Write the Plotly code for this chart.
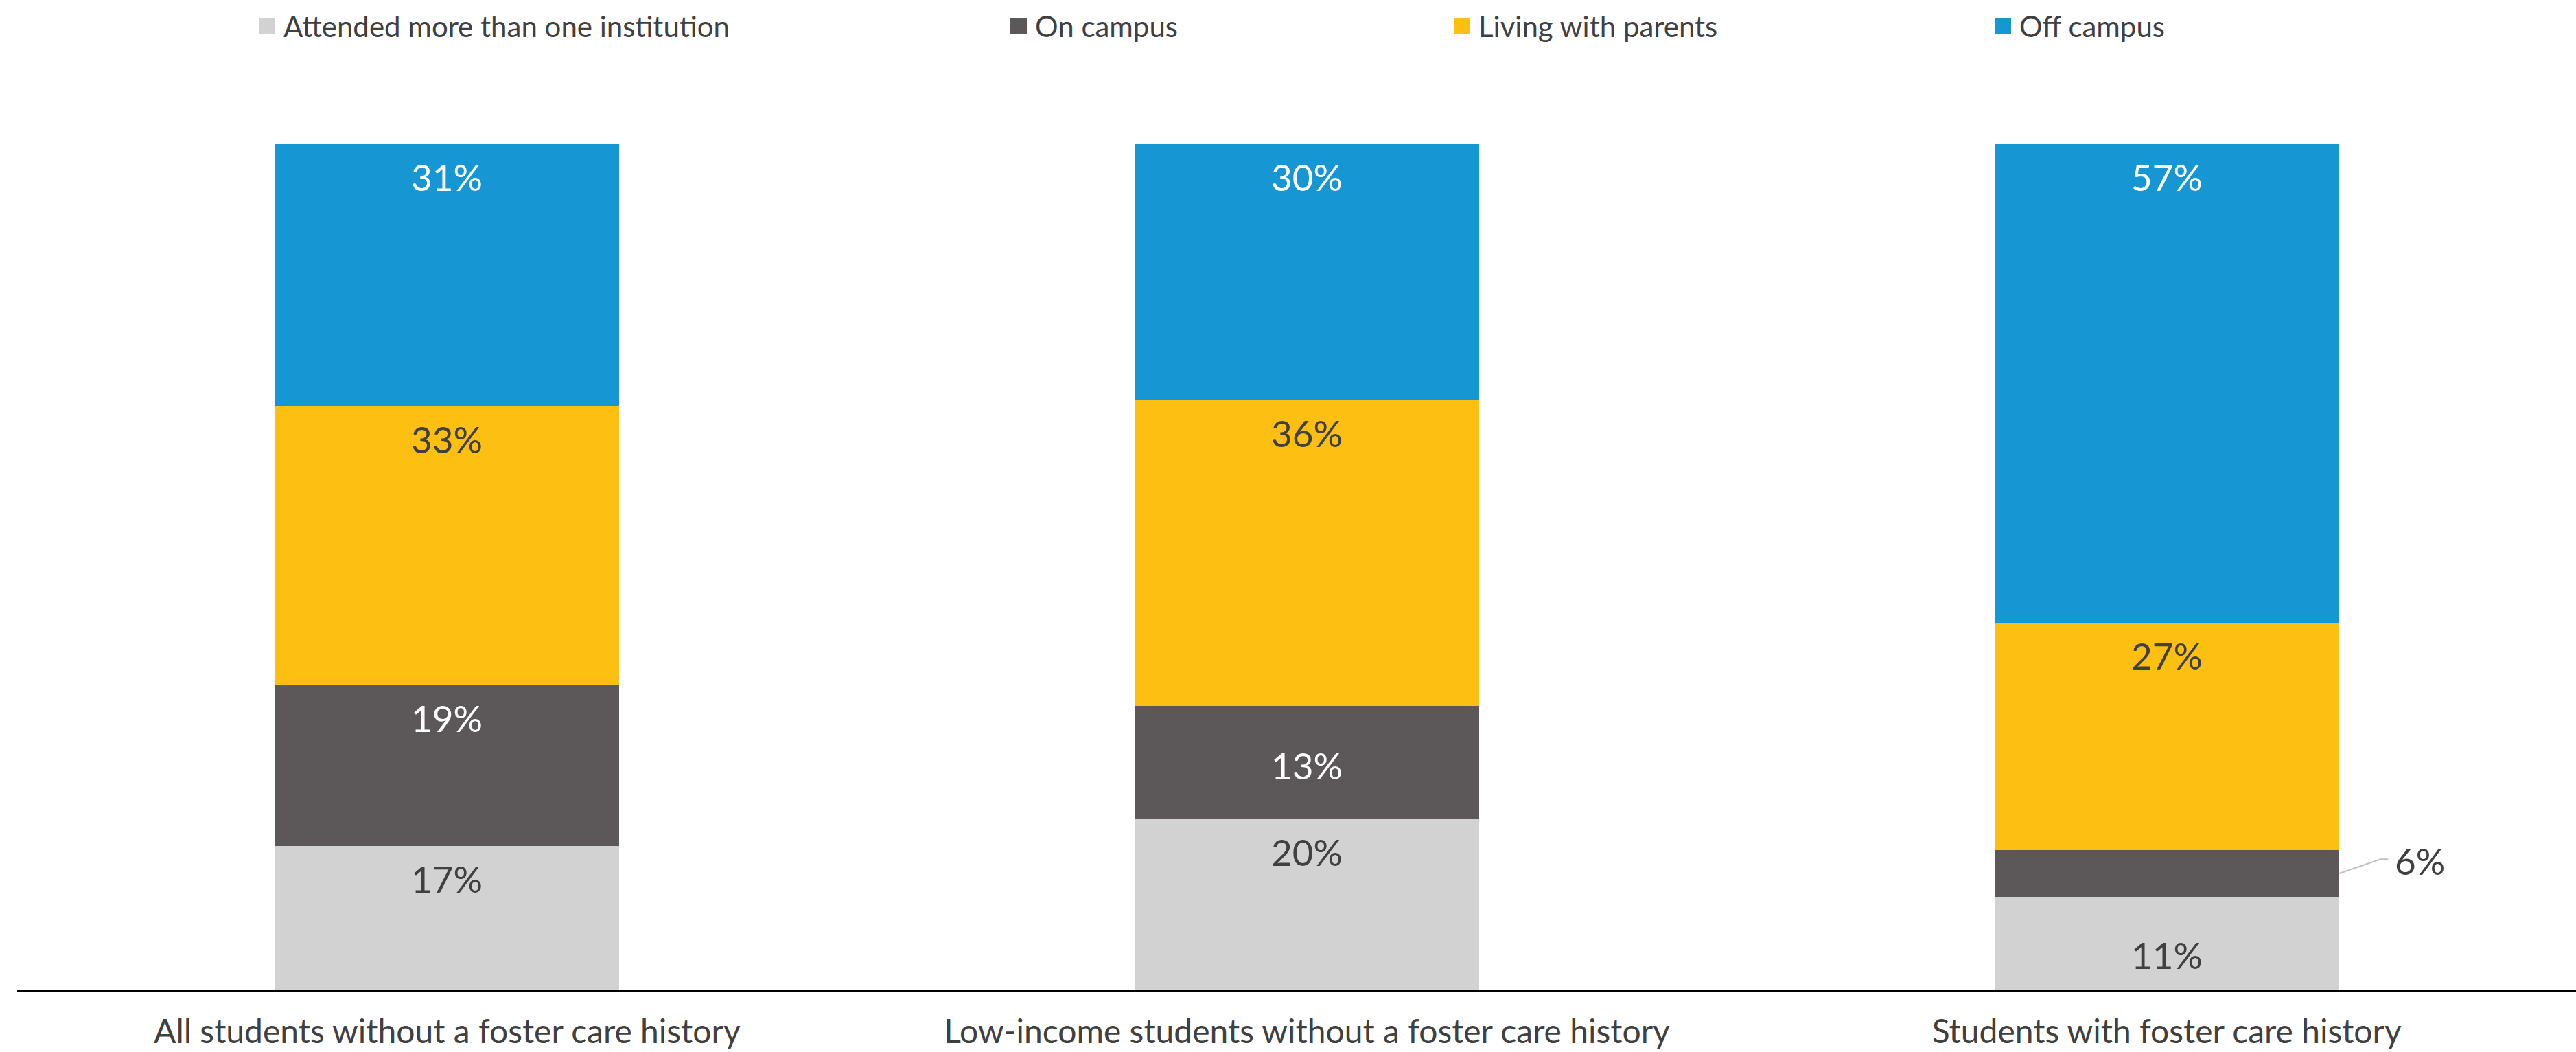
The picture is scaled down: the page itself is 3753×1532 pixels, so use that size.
import plotly.graph_objects as go

# ---------------- data ----------------
categories = [
    "All students without a foster care history",
    "Low-income students without a foster care history",
    "Students with foster care history",
]
series_names = ["Attended more than one institution", "On campus", "Living with parents", "Off campus"]
attended = [17.0, 20.2, 10.9]
on_campus = [19.0, 13.3, 5.6]
living = [33.0, 36.2, 26.9]
off_campus = [31.0, 30.3, 56.6]

# ---------------- style ----------------
colors = ["#d2d2d2", "#5c5859", "#fdbf11", "#1696d2"]
label_colors = ["#404040", "#ffffff", "#404040", "#ffffff"]
FONT = "Lato"
TEXT = "#404040"

W, H = 3753, 1532
ML, MR, MT, MB = 25, 0, 150, 91
PW, PH = W - ML - MR, H - MT - MB
PX_PER_UNIT = 12.315          # pixels per percentage point
Y_MAX = PH / PX_PER_UNIT
BAR_W = 0.4

def px2x(px):
    return (px - ML) / PW

def px2y(py):
    return (H - MB - py) / PH

values = [attended, on_campus, living, off_campus]

fig = go.Figure()
for name, vals, col in zip(series_names, values, colors):
    fig.add_trace(go.Bar(
        x=categories, y=vals, name=name, width=BAR_W,
        marker=dict(color=col, line=dict(width=0)),
        showlegend=False, hoverinfo="x+y+name",
    ))

# data labels near the top of each segment (with a few manual adjustments)
default_off = 48
special_off = {(1, 1): 86, (0, 2): 84}   # (series, category) -> px below segment top
annotations = []
for ci in range(len(categories)):
    base = 0.0
    for si, vals in enumerate(values):
        v = vals[ci]
        top = base + v
        if (si, ci) == (1, 2):
            # small segment: label outside to the right with a leader line
            mid = base + v / 2
            annotations.append(dict(
                x=ci + BAR_W / 2, y=mid, xref="x", yref="y",
                text=f"{v:.0f}%", showarrow=False,
                xanchor="left", yanchor="middle", xshift=80, yshift=19,
                font=dict(family=FONT, size=53, color=TEXT),
            ))
            fig.add_shape(
                type="path", xref="x", yref="y",
                xsizemode="pixel", ysizemode="pixel",
                xanchor=ci + BAR_W / 2, yanchor=mid,
                path="M0,0 L61,21 L72,21",
                line=dict(color="#bfbfbf", width=2),
            )
        else:
            off = special_off.get((si, ci), default_off)
            annotations.append(dict(
                x=categories[ci], y=top, xref="x", yref="y",
                text=f"{v:.0f}%", showarrow=False,
                xanchor="center", yanchor="middle", yshift=-off,
                font=dict(family=FONT, size=53, color=label_colors[si]),
            ))
        base = top

# manual legend (squares + labels)
legend_px = [377, 1472, 2118, 2906]
for name, col, lx in zip(series_names, colors, legend_px):
    fig.add_shape(
        type="rect", xref="paper", yref="paper",
        x0=px2x(lx), x1=px2x(lx + 24), y0=px2y(50), y1=px2y(26),
        fillcolor=col, line=dict(width=0),
    )
    annotations.append(dict(
        x=px2x(lx + 34), y=px2y(38), xref="paper", yref="paper",
        text=name, showarrow=False, xanchor="left", yanchor="middle",
        font=dict(family=FONT, size=42, color=TEXT),
    ))

fig.update_layout(
    barmode="stack",
    width=W, height=H,
    margin=dict(l=ML, r=MR, t=MT, b=MB, pad=0, autoexpand=False),
    paper_bgcolor="white", plot_bgcolor="white",
    font=dict(family=FONT, color=TEXT),
    annotations=annotations,
    showlegend=False,
    xaxis=dict(
        type="category", range=[-0.5, 2.476], automargin=False,
        showline=True, linecolor="#000000", linewidth=3,
        ticks="", showgrid=False, zeroline=False,
        tickfont=dict(family=FONT, size=48, color=TEXT),
        ticklabelstandoff=17,
    ),
    yaxis=dict(range=[0, Y_MAX], visible=False, showgrid=False, zeroline=False,
               automargin=False),
)

fig.write_html("out.html")
